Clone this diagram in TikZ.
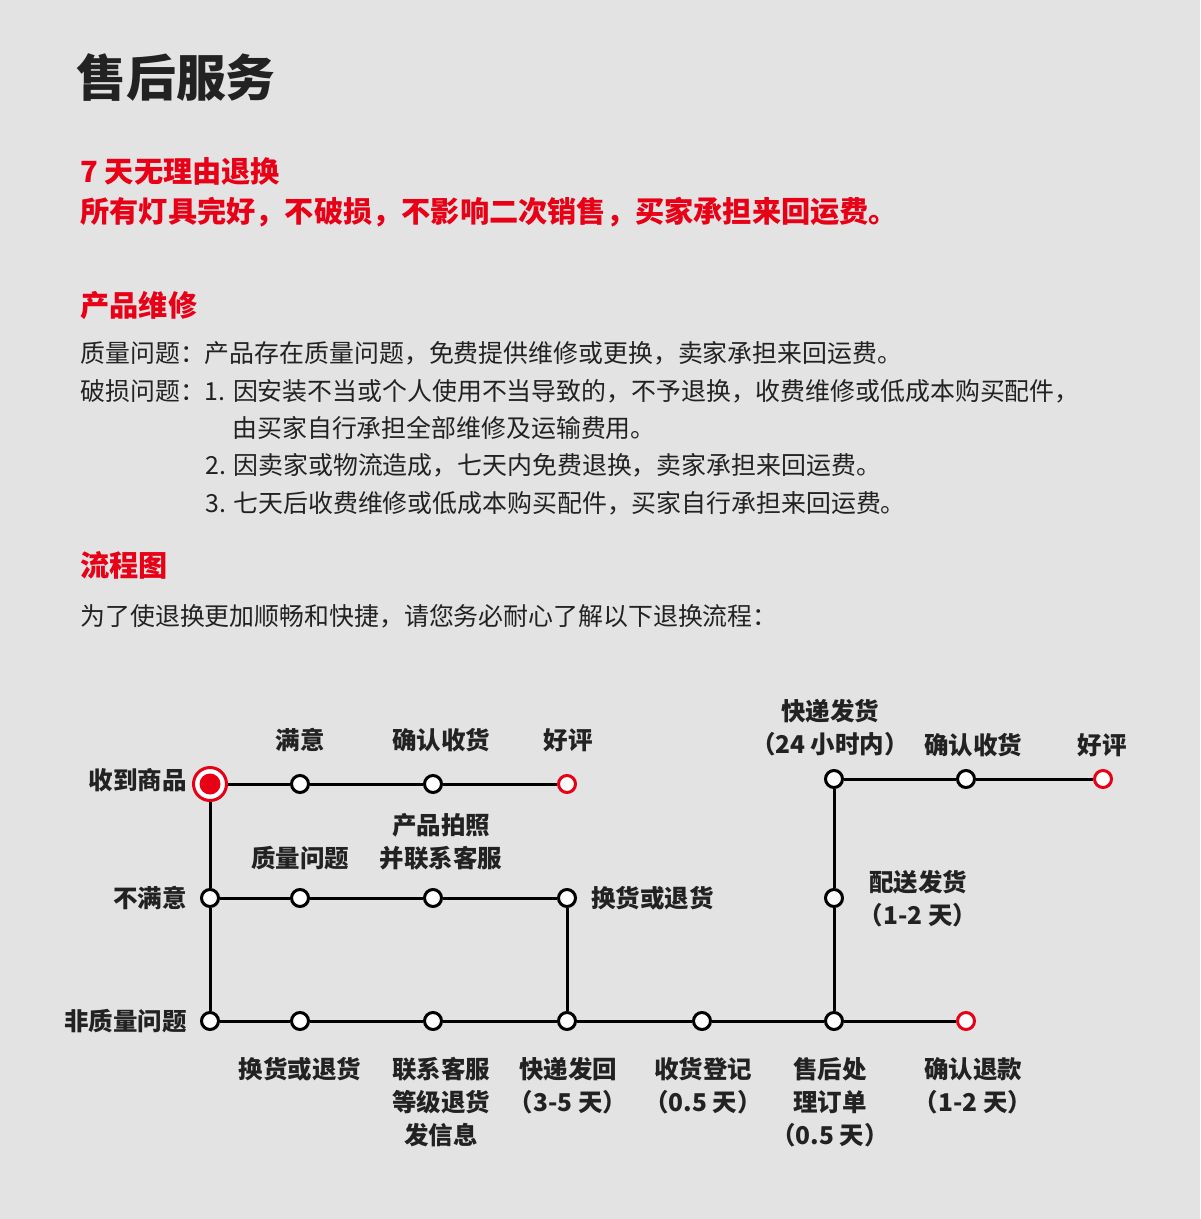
\documentclass[tikz,border=0pt]{standalone}
\usepackage{fontspec}
\setmainfont{Noto Sans CJK SC}
\definecolor{bgc}{RGB}{227,227,227}
\definecolor{redc}{RGB}{232,0,22}
\definecolor{txt}{RGB}{34,34,34}
\tikzset{
  body/.style={anchor=west, inner sep=0pt, text=txt, font=\fontsize{12.45}{15}\selectfont},
  redhead/.style={anchor=west, inner sep=0pt, text=redc, font=\fontsize{14.6}{18}\selectfont\bfseries},
  lbl/.style={inner sep=0pt, text=txt, align=center, font=\fontsize{12.25}{16.5}\selectfont\bfseries},
  dot/.style={circle, draw=black, fill=white, line width=1.5pt, minimum size=8.5pt, inner sep=0pt},
  enddot/.style={dot, draw=redc},
  conn/.style={line width=1.5pt, draw=black},
}
\begin{document}
\begin{tikzpicture}[x=0.5pt,y=-0.5pt]
\path[fill=bgc] (0,0) rectangle (1200,1219);
% texts
\node[anchor=west, inner sep=0pt, text=txt, font=\fontsize{24.9}{30}\selectfont\bfseries] (title) at (76,78) {售后服务};
\node[redhead] (h1) at (80,171) {7 天无理由退换};
\node[redhead] (h1b) at (80,212) {所有灯具完好，不破损，不影响二次销售，买家承担来回运费。};
\node[redhead] (h2) at (80,306) {产品维修};
\node[body] (b1) at (80,353) {质量问题：产品存在质量问题，免费提供维修或更换，卖家承担来回运费。};
\node[body] (b2) at (80,391) {破损问题：1. 因安装不当或个人使用不当导致的，不予退换，收费维修或低成本购买配件，};
\node[body] (b3) at (232,428) {由买家自行承担全部维修及运输费用。};
\node[body] (b4) at (205,465) {2. 因卖家或物流造成，七天内免费退换，卖家承担来回运费。};
\node[body] (b5) at (205,503) {3. 七天后收费维修或低成本购买配件，买家自行承担来回运费。};
\node[redhead] (h3) at (80,565) {流程图};
\node[body] (b6) at (80,616) {为了使退换更加顺畅和快捷，请您务必耐心了解以下退换流程：};

% flow nodes
\node[circle, draw=redc, fill=white, line width=1.5pt, minimum size=16.5pt, inner sep=0pt] (s) at (210,784) {};
\fill[redc] (s.center) circle (5.25pt);
\node[dot] (a2) at (300,784) {};
\node[dot] (a3) at (433,784) {};
\node[enddot] (a4) at (567,784) {};
\node[dot] (b1n) at (210,898) {};
\node[dot] (b2n) at (300,898) {};
\node[dot] (b3n) at (433,898) {};
\node[dot] (b4n) at (567,898) {};
\node[dot] (c1) at (210,1021) {};
\node[dot] (c2) at (300,1021) {};
\node[dot] (c3) at (433,1021) {};
\node[dot] (c4) at (567,1021) {};
\node[dot] (c5) at (702,1021) {};
\node[dot] (c6) at (834,1021) {};
\node[enddot] (c7) at (966,1021) {};
\node[dot] (r2) at (834,898) {};
\node[dot] (r1) at (834,779) {};
\node[dot] (r1b) at (966,779) {};
\node[enddot] (r1c) at (1103,779) {};

% connectors
\draw[conn] (s) -- (a2);
\draw[conn] (a2) -- (a3);
\draw[conn] (a3) -- (a4);
\draw[conn] (s) -- (b1n);
\draw[conn] (b1n) -- (c1);
\draw[conn] (b1n) -- (b2n);
\draw[conn] (b2n) -- (b3n);
\draw[conn] (b3n) -- (b4n);
\draw[conn] (b4n) -- (c4);
\draw[conn] (c1) -- (c2);
\draw[conn] (c2) -- (c3);
\draw[conn] (c3) -- (c4);
\draw[conn] (c4) -- (c5);
\draw[conn] (c5) -- (c6);
\draw[conn] (c6) -- (c7);
\draw[conn] (c6) -- (r2);
\draw[conn] (r2) -- (r1);
\draw[conn] (r1) -- (r1b);
\draw[conn] (r1b) -- (r1c);

% labels
\node[lbl, anchor=east] (l0) at (187,780) {收到商品};
\node[lbl, anchor=east] (l1) at (187,898) {不满意};
\node[lbl, anchor=east] (l2) at (187,1021) {非质量问题};
\node[lbl] (la2) at (300,740) {满意};
\node[lbl] (la3) at (441,740) {确认收货};
\node[lbl] (la4) at (568,740) {好评};
\node[lbl] (lb2) at (300,858) {质量问题};
\node[lbl, anchor=north] (lb3) at (441,813) {产品拍照\\并联系客服};
\node[lbl, anchor=west] (lb4) at (591,898) {换货或退货};
\node[lbl] (lc2) at (300,1069) {换货或退货};
\node[lbl, anchor=north] (lc3) at (441,1057) {联系客服\\等级退货\\发信息};
\node[lbl, anchor=north] (lc4) at (568,1057) {快递发回\\（3-5 天）};
\node[lbl, anchor=north] (lc5) at (703,1057) {收货登记\\（0.5 天）};
\node[lbl, anchor=north] (lc6) at (830,1057) {售后处\\理订单\\（0.5 天）};
\node[lbl, anchor=north] (lc7) at (973,1057) {确认退款\\（1-2 天）};
\node[lbl, anchor=north] (lr2) at (918,870) {配送发货\\（1-2 天）};
\node[lbl, anchor=north] (lr1) at (830,699) {快递发货\\（24 小时内）};
\node[lbl] (lr1b) at (973,745) {确认收货};
\node[lbl] (lr1c) at (1102,745) {好评};
\end{tikzpicture}
\end{document}
